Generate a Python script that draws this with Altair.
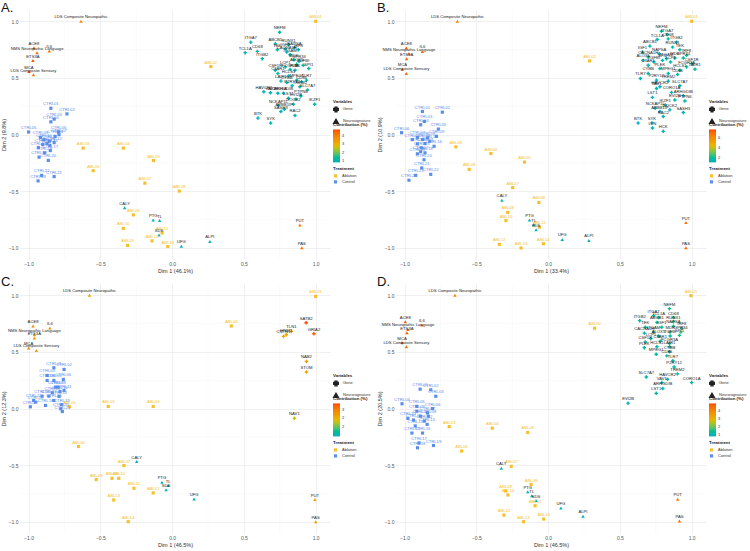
import altair as alt
import pandas as pd

# Palette: contribution gradient (low -> high) and treatment groups
TEAL, GOLD, ORANGE = "#00AFBB", "#E7B800", "#FC4E07"
ABL_COLOR, CTL_COLOR = "#F4C12C", "#5B8DEB"

W, H = 310, 249

GENE_NAMES = [
    "NEFM", "ITGA7", "TCL1A", "CD68", "ITGB2", "ABCB1", "RUNX1", "TEK", "IGF1", "NAPSA",
    "IRF8", "CACNA1H", "ITGAM", "MDK", "GPR34", "ALOX5", "TGFBI", "SPI1", "LCP1", "CSF1R",
    "C3AR1", "FCGR3A", "PLEK", "HCLS1", "LAIR1", "CYBB", "MPEG1", "CD86", "TLR7", "P2RY12",
    "TREM2", "SLC7A7", "HAVCR2", "VAV1", "CORO1A", "ARHGDIB", "LST1", "EVI2B", "PTPN6", "IKZF1",
    "NCKAP1L", "DOCK2", "APBB1IP", "SASH3", "RAC2", "BTK", "SYK", "LYN", "HCK", "FGR",
]

NEURO_NAMES = [
    "LDS Composite Neuropathic", "ACE8", "IL6", "NMS Neuropathic Language", "ETS3A", "MCA",
    "LDS Composite Sensory", "PUT", "PAS", "CALY", "PTG", "TL", "SDS", "UFG", "ALPI",
]

ABL_NAMES = ["ABL01", "ABL02", "ABL03", "ABL04", "ABL05", "ABL06", "ABL07",
             "ABL08", "ABL09", "ABL10", "ABL11", "ABL12", "ABL13", "ABL14"]
CTL_NAMES = ["CTRL01", "CTRL02", "CTRL03", "CTRL04", "CTRL05", "CTRL06", "CTRL07", "CTRL08",
             "CTRL09", "CTRL10", "CTRL11", "CTRL12", "CTRL13", "CTRL14", "CTRL15", "CTRL16",
             "CTRL17", "CTRL18", "CTRL19", "CTRL20", "CTRL21", "CTRL22", "CTRL23", "CTRL24"]

MAJOR_TICKS = [-1.0, -0.5, 0.0, 0.5, 1.0]
MINOR_TICKS = [-0.75, -0.25, 0.25, 0.75]

# ---------------- Panel A ----------------
A_GENE_X = [0.749, 0.548, 0.509, 0.594, 0.628, 0.719, 0.811, 0.733, 0.788, 0.852, 0.879, 0.799,
            0.822, 0.849, 0.884, 0.868, 0.913, 0.952, 0.788, 0.719, 0.737, 0.822, 0.856, 0.811,
            0.758, 0.799, 0.868, 0.902, 0.936, 0.836, 0.890, 0.943, 0.639, 0.685, 0.737, 0.776,
            0.811, 0.863, 0.897, 0.993, 0.742, 0.845, 0.781, 0.758, 0.856, 0.598, 0.687]
A_GENE_Y = [0.904, 0.816, 0.723, 0.734, 0.670, 0.801, 0.793, 0.749, 0.758, 0.766, 0.749, 0.728,
            0.705, 0.661, 0.647, 0.620, 0.612, 0.583, 0.597, 0.568, 0.539, 0.574, 0.568, 0.518,
            0.472, 0.460, 0.480, 0.466, 0.480, 0.431, 0.422, 0.393, 0.378, 0.369, 0.364, 0.364,
            0.320, 0.311, 0.340, 0.267, 0.255, 0.267, 0.223, 0.203, 0.168, 0.145, 0.101]
A_GENE_C = [1.3, 1.1, 1.0, 1.1, 1.0, 1.2, 1.3, 1.2, 1.2, 1.3, 1.3, 1.2,
            1.2, 1.2, 1.3, 1.2, 1.3, 1.3, 1.1, 1.0, 1.1, 1.2, 1.2, 1.1,
            1.0, 1.1, 1.2, 1.2, 1.3, 1.1, 1.2, 1.2, 0.9, 0.9, 1.0, 1.0,
            1.0, 1.1, 1.1, 1.2, 0.9, 1.0, 0.9, 0.9, 1.0, 0.8, 0.8]
A_NEURO_X = [-0.635, -0.963, -0.856, -0.941, -0.970, -0.998, -0.966, 0.890, 0.904,
             -0.331, -0.132, -0.087, -0.091, 0.064, 0.263]
A_NEURO_Y = [1.000, 0.766, 0.737, 0.723, 0.653, 0.556, 0.527, -0.800, -1.000,
             -0.647, -0.755, -0.760, -0.889, -0.988, -0.945]
A_NEURO_C = [3.8, 4.6, 4.3, 4.5, 4.7, 4.8, 4.2, 4.1, 4.3,
             1.0, 0.9, 0.9, 1.0, 0.9, 0.8]
A_ABL_X = [1.000, 0.270, -0.620, -0.340, -0.130, -0.550, -0.190, 0.050, -0.270, -0.340,
           -0.070, -0.140, -0.310, -0.030]
A_ABL_Y = [1.000, 0.600, -0.120, -0.120, -0.230, -0.320, -0.430, -0.500, -0.710, -0.830,
           -0.870, -0.940, -0.980, -0.990]
A_CTL_X = [-0.845, -0.733, -0.822, -0.845, -1.000, -0.792, -0.788, -0.815, -0.918, -0.893,
           -0.856, -0.822, -0.872, -0.852, -0.902, -0.932, -0.849, -0.890, -0.927, -0.863,
           -0.822, -0.909, -0.934]
A_CTL_Y = [0.232, 0.182, 0.136, 0.112, 0.022, 0.022, -0.001, -0.016, -0.025, -0.045,
           -0.060, -0.072, -0.080, -0.095, -0.089, -0.115, -0.142, -0.162, -0.200, -0.229,
           -0.372, -0.361, -0.410]
A_LEGEND_VALUES = [1, 2, 3, 4]

# ---------------- Panel B ----------------
B_GENE_X = [0.790, 0.830, 0.760, 0.837, 0.895, 0.709, 0.867, 0.918, 0.657, 0.774, 0.965, 0.697,
            0.825, 0.883, 0.942, 0.662, 0.737, 0.797, 0.853, 1.000, 0.697, 0.965, 0.779, 0.918,
            1.023, 0.697, 0.837, 0.902, 0.643, 0.755, 0.837, 0.918, 0.779, 0.755, 0.860, 0.942,
            0.727, 0.883, 0.953, 0.816, 0.746, 0.848, 0.779, 0.942, 0.802, 0.627, 0.723, 0.727,
            0.802]
B_GENE_Y = [0.912, 0.883, 0.839, 0.845, 0.816, 0.781, 0.772, 0.749, 0.728, 0.714, 0.699, 0.685,
            0.670, 0.676, 0.676, 0.655, 0.641, 0.655, 0.641, 0.626, 0.612, 0.597, 0.583, 0.568,
            0.577, 0.539, 0.539, 0.530, 0.495, 0.480, 0.472, 0.431, 0.422, 0.407, 0.372, 0.343,
            0.328, 0.305, 0.296, 0.261, 0.232, 0.218, 0.203, 0.194, 0.159, 0.101, 0.101, 0.057,
            0.028]
B_GENE_C = [1.8, 1.7, 1.6, 1.7, 1.8, 1.5, 1.7, 1.8, 1.4, 1.6, 1.9, 1.5,
            1.6, 1.7, 1.8, 1.4, 1.5, 1.6, 1.7, 1.9, 1.5, 1.8, 1.6, 1.7,
            1.9, 1.4, 1.6, 1.7, 1.3, 1.4, 1.5, 1.6, 1.4, 1.4, 1.5, 1.6,
            1.3, 1.5, 1.6, 1.4, 1.3, 1.4, 1.3, 1.5, 1.3, 1.1, 1.2, 1.1,
            1.2]
B_NEURO_X = [-0.632, -0.988, -0.876, -0.970, -0.986, -1.016, -0.988, 0.960, 0.960,
             -0.322, -0.130, -0.100, -0.084, 0.098, 0.284]
B_NEURO_Y = [1.000, 0.764, 0.734, 0.714, 0.670, 0.577, 0.539, -0.778, -1.000,
             -0.580, -0.755, -0.796, -0.842, -0.927, -0.936]
B_NEURO_C = [6.4, 7.6, 7.2, 7.4, 7.5, 7.8, 7.0, 6.8, 7.1,
             1.4, 1.3, 1.2, 1.3, 1.2, 1.1]
B_ABL_X = [1.000, 0.289, -0.643, -0.399, -0.165, -0.550, -0.247, -0.065, -0.282, -0.294,
           -0.061, -0.340, -0.189, -0.033]
B_ABL_Y = [1.000, 0.650, -0.109, -0.168, -0.244, -0.308, -0.469, -0.600, -0.688, -0.761,
           -0.819, -0.971, -1.003, -0.965]
B_CTL_X = [-0.876, -0.737, -0.862, -0.888, -0.765, -1.021, -0.911, -0.841, -0.778, -0.946,
           -0.876, -0.825, -0.858, -0.911, -0.881, -0.795, -0.888, -0.858, -0.911, -0.865,
           -0.881, -0.818, -0.923, -0.970]
B_CTL_Y = [0.203, 0.197, 0.115, 0.086, 0.048, 0.016, -0.025, -0.031, -0.016, -0.045,
           -0.045, -0.060, -0.080, -0.083, -0.118, -0.104, -0.153, -0.162, -0.171, -0.223,
           -0.296, -0.352, -0.361, -0.404]
B_LEGEND_VALUES = [2, 4, 6]

# ---------------- Panel C ----------------
C_GENE_NAMES = ["SATB2", "TLN1", "HNMT", "CNTN1", "GRIA2", "NAB2", "STOM", "NAV1"]
C_GENE_X = [0.934, 0.831, 0.795, 0.776, 0.988, 0.936, 0.936, 0.852]
C_GENE_Y = [0.758, 0.681, 0.652, 0.637, 0.661, 0.416, 0.322, -0.086]
C_GENE_C = [2.9, 2.3, 2.1, 2.1, 2.8, 2.2, 2.1, 1.8]
C_NEURO_X = [-0.576, -0.969, -0.852, -0.960, -0.960, -1.000, -0.946, 0.995, 1.000,
             -0.247, -0.071, -0.028, -0.042, 0.153]
C_NEURO_Y = [1.000, 0.729, 0.711, 0.652, 0.622, 0.534, 0.513, -0.805, -1.000,
             -0.469, -0.652, -0.681, -0.717, -0.799]
C_NEURO_C = [2.2, 2.4, 2.3, 2.3, 2.3, 2.4, 2.2, 2.2, 2.2,
             1.0, 1.0, 0.95, 0.95, 0.9]
C_ABL_X = [1.000, 0.412, -0.445, -0.132, -0.715, -0.652, -0.336, -0.529, -0.419, -0.372,
           -0.266, -0.132, -0.407, -0.306]
C_ABL_Y = [0.991, 0.729, 0.018, 0.018, 0.015, -0.336, -0.504, -0.628, -0.617, -0.617,
           -0.705, -0.746, -0.808, -1.000]
C_CTL_X = [-0.824, -0.753, -0.871, -0.871, -0.824, -0.758, -0.812, -0.795, -0.835, -0.781,
           -0.753, -0.906, -0.859, -0.788, -0.824, -0.953, -0.988, -0.882, -0.769, -0.776,
           -0.765, -0.965]
C_CTL_Y = [0.360, 0.345, 0.292, 0.248, 0.248, 0.257, 0.189, 0.189, 0.139, 0.150,
           0.159, 0.109, 0.109, 0.106, 0.071, 0.056, 0.015, 0.027, 0.035, -0.003,
           -0.027, 0.071]
C_LEGEND_VALUES = [1.5, 2.0, 2.5]

# ---------------- Panel D ----------------
D_GENE_X = [0.845, 0.735, 0.769, 0.873, 0.638, 0.758, 0.873, 0.677, 0.792, 0.873, 0.931, 0.670,
            0.735, 0.850, 0.924, 0.769, 0.850, 0.915, 0.716, 0.677, 0.781, 0.846, 0.670, 0.758,
            0.846, 0.846, 0.753, 0.827, 0.869, 0.878, 0.901, 0.684, 0.832, 0.792, 1.000, 0.799,
            0.753, 0.557]
D_GENE_Y = [0.882, 0.819, 0.804, 0.804, 0.776, 0.761, 0.767, 0.718, 0.718, 0.727, 0.709, 0.666,
            0.675, 0.675, 0.675, 0.640, 0.640, 0.646, 0.617, 0.588, 0.594, 0.574, 0.537, 0.545,
            0.545, 0.502, 0.479, 0.465, 0.422, 0.367, 0.306, 0.278, 0.258, 0.229, 0.229, 0.177,
            0.134, 0.047]
D_GENE_C = [1.5, 1.3, 1.4, 1.5, 1.2, 1.4, 1.5, 1.3, 1.4, 1.5, 1.6, 1.2,
            1.3, 1.5, 1.6, 1.4, 1.4, 1.5, 1.3, 1.2, 1.3, 1.4, 1.2, 1.3,
            1.4, 1.3, 1.2, 1.3, 1.3, 1.2, 1.2, 1.1, 1.2, 1.1, 1.3, 1.1,
            1.0, 0.9]
D_NEURO_X = [-0.649, -0.995, -0.880, -0.977, -0.984, -1.018, -0.988, 0.903, 0.915,
             -0.326, -0.142, -0.114, -0.084, 0.089, 0.243]
D_NEURO_Y = [1.000, 0.767, 0.738, 0.698, 0.669, 0.583, 0.545, -0.801, -0.994,
             -0.528, -0.735, -0.770, -0.813, -0.879, -0.951]
D_NEURO_C = [4.0, 4.7, 4.4, 4.6, 4.7, 4.9, 4.3, 4.2, 4.4,
             1.0, 0.9, 0.9, 1.0, 0.9, 0.8]
D_ABL_X = [0.995, 0.324, -0.689, -0.389, -0.142, -0.603, -0.257, -0.119, -0.296, -0.280,
           -0.091, -0.308, -0.172, -0.031]
D_ABL_Y = [0.997, 0.709, -0.160, -0.174, -0.212, -0.376, -0.511, -0.672, -0.729, -0.764,
           -0.859, -0.942, -1.000, -0.977]
D_CTL_X = [-0.892, -0.818, -0.783, -1.018, -0.915, -0.806, -0.841, -0.834, -0.915, -0.889,
           -0.938, -0.862, -0.843, -0.926, -0.949, -0.875, -0.899, -0.910, -0.799, -0.977]
D_CTL_Y = [0.171, 0.165, 0.108, 0.042, 0.019, -0.001, -0.039, -0.068, -0.024, -0.068,
           -0.102, -0.111, -0.140, -0.154, -0.217, -0.217, -0.304, -0.347, -0.327, -0.088]
D_LEGEND_VALUES = [1, 2, 3, 4]


def axis(title):
    return alt.Axis(
        title=title, values=MAJOR_TICKS, format=".1f", grid=True, gridColor="#E6E6E6",
        gridWidth=0.6, domain=False, ticks=False, labelFontSize=5, labelColor="#555555",
        labelPadding=2, titleFontSize=5.5, titleFontWeight="normal", titleColor="#333333",
        titlePadding=2,
    )


def panel(letter, xtitle, ytitle, genes, neuro, abl, ctl, legend_values):
    gx, gy, gc, gl = genes
    nx, ny, nc, nl = neuro
    ax, ay = abl
    cx, cy = ctl

    variables = pd.DataFrame({
        "x": list(gx) + list(nx),
        "y": list(gy) + list(ny),
        "contrib": list(gc) + list(nc),
        "label": list(gl[:len(gx)]) + list(nl[:len(nx)]),
        "Variables": ["Gene"] * len(gx) + ["Neurosignature"] * len(nx),
    })
    samples = pd.DataFrame({
        "x": list(ax) + list(cx),
        "y": list(ay) + list(cy),
        "label": ABL_NAMES[:len(ax)] + CTL_NAMES[:len(cx)],
        "Treatment": ["Ablation"] * len(ax) + ["Control"] * len(cx),
    })

    xs = alt.Scale(domain=[-1.06, 1.1], nice=False, zero=False)
    ys = alt.Scale(domain=[-1.1, 1.1], nice=False, zero=False)
    X = alt.X("x:Q", scale=xs, axis=axis(xtitle))
    Y = alt.Y("y:Q", scale=ys, axis=axis(ytitle))

    minor = pd.DataFrame({"v": MINOR_TICKS})
    minor_x = alt.Chart(minor).mark_rule(color="#F2F2F2", strokeWidth=0.4).encode(
        x=alt.X("v:Q", scale=xs, axis=axis(xtitle)))
    minor_y = alt.Chart(minor).mark_rule(color="#F2F2F2", strokeWidth=0.4).encode(
        y=alt.Y("v:Q", scale=ys, axis=axis(ytitle)))

    fill_scale = alt.Scale(domain=["Ablation", "Control"], range=[ABL_COLOR, CTL_COLOR])
    treat_legend = alt.Legend(title="Treatment", orient="none", legendX=W + 3, legendY=157,
                              symbolType="square", symbolSize=10)
    sample_pts = alt.Chart(samples).mark_square(size=10, opacity=1).encode(
        x=X, y=Y, fill=alt.Fill("Treatment:N", scale=fill_scale, legend=treat_legend))
    sample_txt = alt.Chart(samples).mark_text(fontSize=4.2, dy=-4).encode(
        x=X, y=Y, text="label:N",
        fill=alt.Fill("Treatment:N", scale=fill_scale, legend=treat_legend))

    shape_legend = alt.Legend(title="Variables", orient="none", legendX=W + 3, legendY=90,
                              symbolFillColor="#222222", symbolStrokeColor="#222222",
                              symbolSize=20)
    color_legend = alt.Legend(title="Contribution (%)", orient="none", legendX=W + 3,
                              legendY=113, gradientLength=33, gradientThickness=7,
                              values=legend_values, labelOverlap=False)
    var_pts = alt.Chart(variables).mark_point(filled=True, size=12, opacity=1).encode(
        x=X, y=Y,
        shape=alt.Shape("Variables:N",
                        scale=alt.Scale(domain=["Gene", "Neurosignature"],
                                        range=["cross", "triangle-up"]),
                        legend=shape_legend),
        color=alt.Color("contrib:Q", scale=alt.Scale(range=[TEAL, GOLD, ORANGE]),
                        legend=color_legend),
    )
    var_txt = alt.Chart(variables).mark_text(fontSize=4.2, dy=-4, color="#222222").encode(
        x=X, y=Y, text="label:N")

    tag = alt.Chart(pd.DataFrame({"t": [letter]})).mark_text(
        fontSize=13, align="left", baseline="top", color="#111111").encode(
        x=alt.value(-19), y=alt.value(-8), text="t:N")

    return alt.layer(minor_x, minor_y, sample_pts, var_pts, sample_txt, var_txt, tag).properties(
        width=W, height=H)


pA = panel("A.", "Dim 1 (46.1%)", "Dim 2 (9.8%)",
           (A_GENE_X, A_GENE_Y, A_GENE_C, GENE_NAMES),
           (A_NEURO_X, A_NEURO_Y, A_NEURO_C, NEURO_NAMES),
           (A_ABL_X, A_ABL_Y), (A_CTL_X, A_CTL_Y), A_LEGEND_VALUES)
pB = panel("B.", "Dim 1 (33.4%)", "Dim 2 (10.9%)",
           (B_GENE_X, B_GENE_Y, B_GENE_C, GENE_NAMES),
           (B_NEURO_X, B_NEURO_Y, B_NEURO_C, NEURO_NAMES),
           (B_ABL_X, B_ABL_Y), (B_CTL_X, B_CTL_Y), B_LEGEND_VALUES)
pC = panel("C.", "Dim 1 (46.5%)", "Dim 2 (12.3%)",
           (C_GENE_X, C_GENE_Y, C_GENE_C, C_GENE_NAMES),
           (C_NEURO_X, C_NEURO_Y, C_NEURO_C, NEURO_NAMES),
           (C_ABL_X, C_ABL_Y), (C_CTL_X, C_CTL_Y), C_LEGEND_VALUES)
pD = panel("D.", "Dim 1 (46.5%)", "Dim 2 (20.5%)",
           (D_GENE_X, D_GENE_Y, D_GENE_C, GENE_NAMES),
           (D_NEURO_X, D_NEURO_Y, D_NEURO_C, NEURO_NAMES),
           (D_ABL_X, D_ABL_Y), (D_CTL_X, D_CTL_Y), D_LEGEND_VALUES)

top = alt.hconcat(pA, pB, spacing=6).resolve_scale(color="independent", fill="independent",
                                                    shape="independent")
bottom = alt.hconcat(pC, pD, spacing=6).resolve_scale(color="independent", fill="independent",
                                                       shape="independent")

chart = alt.vconcat(top, bottom, spacing=2).resolve_scale(
    color="independent", fill="independent", shape="independent"
).configure(
    padding={"left": 1, "top": 2, "right": 0, "bottom": 0},
    font="Liberation Sans",
).configure_view(stroke=None).configure_legend(
    titleFontSize=4.4, titleFontWeight="bold", titleColor="#222222", titlePadding=2,
    labelFontSize=4, labelColor="#333333", rowPadding=1, padding=0, offset=2,
)

chart.save("out.html", embed_options={"renderer": "svg", "actions": False})
